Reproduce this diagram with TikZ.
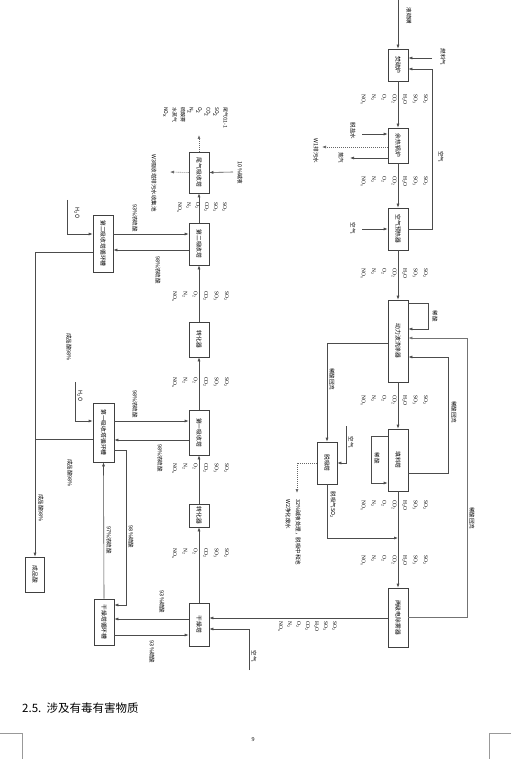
\documentclass[tikz,border=0pt]{standalone}
\usepackage{fontspec}
\setmainfont{Liberation Serif}
\newfontfamily\cjk{Noto Sans CJK SC}
\usepackage{graphicx}
\usetikzlibrary{arrows.meta,calc}
\newcommand\bx[1]{\rotatebox{-90}{\cjk\fontsize{5.8}{7}\selectfont #1}}
\newcommand\gasS{SO\textsubscript{2}\\SO\textsubscript{3}\\H\textsubscript{2}O\\CO\textsubscript{2}\\O\textsubscript{2}\\N\textsubscript{2}\\NO\textsubscript{x}}
\newcommand\gasD{SO\textsubscript{2}\\SO\textsubscript{3}\\CO\textsubscript{2}\\O\textsubscript{2}\\N\textsubscript{2}\\NO\textsubscript{x}}
\begin{document}
\begin{tikzpicture}[x=1pt,y=-1pt,
  box/.style={draw=black!75, line width=0.6pt, fill=white, minimum width=20pt, inner sep=0pt},
  ln/.style={draw=black!70, line width=0.6pt},
  arr/.style={ln, -{Latex[length=4pt,width=3pt]}},
  dotl/.style={draw=black!60, line width=0.6pt, dash pattern=on 1pt off 1pt, -{Latex[length=4pt,width=3pt]}},
  gas/.style={rotate=-90, anchor=north west, align=left, inner sep=0pt, font=\fontsize{5.5}{10.4}\selectfont},
  lab/.style={rotate=-90, inner sep=0pt, align=left, font=\cjk\fontsize{5.5}{7}\selectfont},
]
\useasboundingbox (0,0) rectangle (511,759);
\fill[white] (0,0) rectangle (511,759);

% ---------- right column ----------
\node[box,minimum height=32pt] (fsl) at (398,65) {\bx{焚硫炉}};
\node[box,minimum height=35pt] (whb) at (398,145.5) {\bx{余热锅炉}};
\node[box,minimum height=42pt] (aph) at (398,229) {\bx{空气预热器}};
\node[box,minimum height=82pt] (dwb) at (398,341) {\bx{动力波洗涤器}};
\node[box,minimum height=62pt] (pkt) at (398,460) {\bx{填料塔}};
\node[box,minimum height=42pt] (str) at (327,463) {\bx{脱吸塔}};
\node[box,minimum height=59pt] (emd) at (398,617.5) {\bx{两级电除雾器}};

\coordinate (in0) at (398,0);
\draw[arr] (in0) -- (fsl.north);
\node[lab] (lin0) at (409,16) {液硫磺};
\coordinate (fuel) at (432,58);
\draw[arr] (fuel) -- (fsl.east |- fuel);
\node[lab] (lfuel) at (443,57) {燃料气};
\coordinate (ab1c) at (432,229);
\coordinate (ab2c) at (432,69);
\draw[arr] (aph.east |- ab1c) -- (ab1c) -- (ab2c) -- (fsl.east |- ab2c);
\node[lab] (lair0) at (441,157) {空气};

\draw[arr] (fsl.south) -- (whb.north);
\node[gas] (g1) at (428,94) {\gasS};
\coordinate (dsw) at (362,134);
\draw[arr] (dsw) -- (whb.west |- dsw);
\node[lab] (ldsw) at (353,131) {脱盐水};
\coordinate (stm) at (350,158);
\draw[arr] (whb.west |- stm) -- (stm);
\node[lab] (lstm) at (341,158) {蒸汽};
\coordinate (w1) at (322,147);
\draw[dotl] (whb.west |- w1) -- (w1);
\node[lab] (lw1) at (316,151) {W1排污水};

\draw[arr] (whb.south) -- (aph.north);
\node[gas] (g2) at (428,176) {\gasS};
\coordinate (air1) at (362,229);
\draw[arr] (air1) -- (aph.west);
\node[lab] (lair1) at (353,228) {空气};

\draw[arr] (aph.south) -- (dwb.north);
\node[gas] (g3) at (428,268) {\gasS};
\coordinate (l1a) at (428,303);
\coordinate (l1b) at (428,329);
\draw[arr] (dwb.east |- l1a) -- (l1a) -- (l1b) -- (dwb.east |- l1b);
\node[lab] (ll1) at (435,316) {稀酸};

\draw[arr] (dwb.south) -- (pkt.north);
\node[gas] (g4) at (428,395) {\gasS};
\coordinate (l2a) at (371,436);
\coordinate (l2b) at (371,483);
\draw[arr] (pkt.west |- l2a) -- (l2a) -- (l2b) -- (pkt.west |- l2b);
\node[lab] (ll2) at (377,458) {稀酸};
\coordinate (r1a) at (448,473);
\coordinate (r1b) at (448,357);
\draw[arr] (pkt.east |- r1a) -- (r1a) -- (r1b) -- (dwb.east |- r1b);
\node[lab] (lr1) at (454,412) {稀酸回流};

\coordinate (s1) at (327,343);
\draw[arr] (dwb.west |- s1) -- (s1) -- (str.north);
\node[lab] (ls1) at (332,379) {稀酸回流};
\coordinate (sa1) at (346,426);
\coordinate (sa2) at (346,463);
\draw[arr] (sa1) -- (sa2) -- (str.east |- sa2);
\node[lab] (lsa) at (351,442) {空气};
\coordinate (sd1) at (297,463);
\coordinate (sd2) at (297,493);
\draw[dotl] (str.west |- sd1) -- (sd1) -- (sd2);
\node[lab,anchor=north west,font=\cjk\fontsize{5.5}{10}\selectfont] (lsd) at (301,499) {32\%碱液处理，脱吸中和池\\W2净化废水};
\coordinate (mj) at (398,538);
\draw[arr] (str.south) -- (str.south |- mj) -- (mj);
\node[lab] (lsg) at (333,505) {脱吸气SO\textsubscript{2}};

\draw[arr] (pkt.south) -- (emd.north);
\node[gas] (g5) at (428,500) {\gasS};
\node[gas] (g6) at (428,555) {\gasS};
\coordinate (r2a) at (467,617);
\coordinate (r2b) at (467,338);
\draw[ln,draw=black!55] (emd.east |- r2a) -- (r2a) -- (r2b);
\draw[arr,draw=black!55] (r2b) -- (dwb.east |- r2b);
\node[lab] (lr2) at (472,518) {稀酸回流};

% ---------- left column ----------
\node[box,minimum height=43pt] (dry) at (199,624.5) {\bx{干燥塔}};
\node[box,minimum height=23pt] (cv2) at (199,515.5) {\bx{转化器}};
\node[box,minimum height=45pt] (ab1) at (199,432.5) {\bx{第一吸收塔}};
\node[box,minimum height=35pt] (cv1) at (199,339.5) {\bx{转化器}};
\node[box,minimum height=42pt] (ab2) at (199,244) {\bx{第二吸收塔}};
\node[box,minimum height=41pt] (tg) at (199,172.5) {\bx{尾气吸收塔}};

\coordinate (dg) at (300,618);
\draw[arr] (emd.west |- dg) -- (dry.east |- dg);
\node[gas,font=\fontsize{5.5}{9}\selectfont] (g7) at (337,621) {\gasS};
\coordinate (da) at (249,670);
\coordinate (db) at (249,629);
\draw[arr] (da) -- (db) -- (dry.east |- db);
\node[lab] (lda) at (254,656) {空气};

\draw[arr] (dry.north) -- (cv2.south);
\node[gas] (gA) at (229,548) {\gasD};
\draw[arr] (cv2.north) -- (ab1.south);
\node[gas] (gB) at (229,463) {\gasD};
\draw[arr] (ab1.north) -- (cv1.south);
\node[gas] (gC) at (229,377) {\gasD};
\draw[arr] (cv1.north) -- (ab2.south);
\node[gas] (gD) at (229,291) {\gasD};
\draw[arr] (ab2.north) -- (tg.south);
\node[gas,font=\fontsize{5.5}{9}\selectfont] (gE) at (227,202) {\gasD};

\coordinate (tu) at (199,135);
\draw[dotl] (tg.north) -- (tu);
\coordinate (tl) at (170,172);
\draw[dotl] (tg.west) -- (tl);
\coordinate (ta) at (233,172);
\draw[arr] (ta) -- (tg.east);
\node[lab] (lta) at (240,173) {10\%碱液};
\node[gas,font=\cjk\fontsize{5}{8.5}\selectfont] (gtop) at (228,107) {尾气G1-1\\SO\textsubscript{2}\\CO\textsubscript{2}\\O\textsubscript{2}\\N\textsubscript{2}\\硫酸雾\\水蒸气\\NO\textsubscript{x}};
\node[lab] (lw3) at (154,183) {W3吸收塔排污水收集池};

% ---------- tanks ----------
\node[box,minimum height=57pt] (t2) at (103,243.5) {\bx{第二吸收塔循环槽}};
\node[box,minimum height=59pt,minimum width=21pt] (t1) at (103.5,432.5) {\bx{第一吸收塔循环槽}};
\node[box,minimum height=46pt] (t0) at (104,622) {\bx{干燥塔循环槽}};
\node[box,minimum height=35pt,minimum width=19pt] (prod) at (35,574.5) {\bx{成品酸}};

\coordinate (h2a) at (67,200);
\coordinate (h2b) at (67,234);
\draw[arr] (h2a) -- (h2b) -- (t2.west |- h2b);
\node[lab] (lh2) at (77,213) {H\textsubscript{2}O};
\draw[arr] (t2.east |- h2b) -- (ab2.west |- h2b);
\node[lab] (lt2a) at (135,218) {93\%浓硫酸};
\coordinate (y250) at (150,250);
\draw[arr] (ab2.west |- y250) -- (t2.east |- y250);
\node[lab] (lt2b) at (158,270) {98\%浓硫酸};
\coordinate (pa) at (35,252);
\draw[arr] (t2.west |- pa) -- (pa) -- (prod.north);
\node[lab] (lpa) at (69,347) {成品酸98\%};

\coordinate (h1a) at (75,382);
\coordinate (h1b) at (75,421);
\draw[arr] (h1a) -- (h1b) -- (t1.west |- h1b);
\node[lab] (lh1) at (80,396) {H\textsubscript{2}O};
\draw[arr] (t1.east |- h1b) -- (ab1.west |- h1b);
\node[lab] (lt1a) at (135,404) {98\%浓硫酸};
\coordinate (y440) at (150,440);
\draw[arr] (ab1.west |- y440) -- (t1.east |- y440);
\node[lab] (lt1b) at (160,458) {98\%浓硫酸};
\coordinate (pj) at (35,439);
\draw[ln] (t1.west |- pj) -- (pj);
\node[lab] (lpb) at (70,473) {成品酸98\%};
\node[lab] (lpc) at (41,508) {成品酸98\%};

\coordinate (k1) at (126,450);
\coordinate (k2) at (126,605);
\draw[arr] (t1.east |- k1) -- (k1) -- (k2) -- (t0.east |- k2);
\node[lab] (lk) at (131,537) {98\%硫酸};
\draw[arr] (t0.north) -- (t1.south);
\node[lab] (lt0u) at (109,540) {97\%浓硫酸};
\coordinate (y619) at (150,619);
\draw[arr] (dry.west |- y619) -- (t0.east |- y619);
\node[lab] (lt0a) at (162,602) {93\%硫酸};
\coordinate (y635) at (150,635);
\draw[arr] (t0.east |- y635) -- (dry.west |- y635);
\node[lab] (lt0b) at (152,652) {93\%硫酸};

% ---------- page furniture ----------
\node[anchor=west,inner sep=0pt,font=\cjk\fontsize{11.5}{13}\selectfont] (head) at (22,708) {2.5.\ \ 涉及有毒有害物质};
\node[inner sep=0pt,font=\fontsize{6}{7}\selectfont] (pnum) at (253,740) {9};
\draw[black!40,line width=0.5pt] (0,733) -- (22,733) -- (22,759);
\draw[black!40,line width=0.5pt] (511,733) -- (489,733) -- (489,759);
\end{tikzpicture}
\end{document}
